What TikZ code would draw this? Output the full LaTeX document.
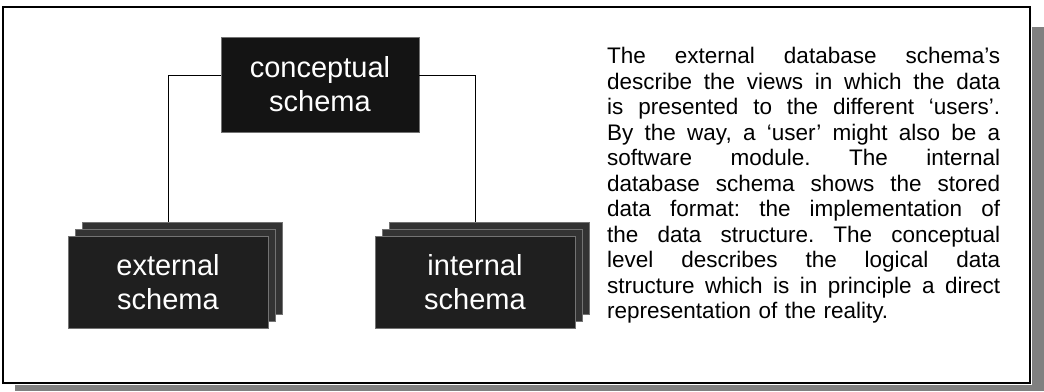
\documentclass[tikz,border=0pt]{standalone}
\usepackage{fontspec}
\setmainfont{Liberation Sans}
% one justified line of the explanation, spaces free to stretch
\newcommand\jline[1]{\makebox[393pt][s]{\spaceskip=0pt\xspaceskip=0pt\frenchspacing\relax #1}}
\begin{document}
\begin{tikzpicture}[x=1pt,y=-1pt,
  schemabox/.style={fill=black!88, draw=black!55, line width=0.6pt,
    minimum width=200pt, minimum height=92pt, inner sep=0pt},
  backbox/.style={schemabox, fill=black!80},
  boxtext/.style={text=white, font=\fontsize{29}{34}\selectfont, align=center},
  link/.style={draw=black, line width=1pt},
  para/.style={font=\fontsize{22.5}{25.5}\selectfont, text width=393pt,
    align=left, inner sep=0pt, anchor=north west}]

\useasboundingbox (0,0) rectangle (1044,391);

% drop shadow of the frame
\fill[black!50] (1032,27) rectangle (1044,391);
\fill[black!50] (15,385) rectangle (1044,391);
% frame
\draw[line width=1.5pt] (3,7) rectangle (1030,383);

% conceptual level
\node[schemabox, fill=black!92, minimum width=198pt, minimum height=95pt, boxtext]
  (concept) at (320,84.5) {conceptual\\schema};

% external schemas (stack of three)
\node[backbox]  (extback) at (182,268) {};
\node[backbox]  (extmid)  at (175,275) {};
\node[schemabox, boxtext] (extfront) at (168,282) {external\\schema};

% internal schemas (stack of three)
\node[backbox]  (intback) at (489,268) {};
\node[backbox]  (intmid)  at (482,275) {};
\node[schemabox, boxtext] (intfront) at (475,282) {internal\\schema};

% connectors
\draw[link] ([yshift=9.5pt]concept.west) -| (extback.north -| extfront.north);
\draw[link] ([yshift=9.5pt]concept.east) -| (intback.north -| intfront.north);

% explanation
\node[para] (desc) at (607,47) {\frenchspacing
\jline{The external database schema’s}\\
\jline{describe the views in which the data}\\
\jline{is presented to the different ‘users’.}\\
\jline{By the way, a ‘user’ might also be a}\\
\jline{software module. The internal}\\
\jline{database schema shows the stored}\\
\jline{data format: the implementation of}\\
\jline{the data structure. The conceptual}\\
\jline{level describes the logical data}\\
\jline{structure which is in principle a direct}\\
representation of the reality.};
\end{tikzpicture}
\end{document}
